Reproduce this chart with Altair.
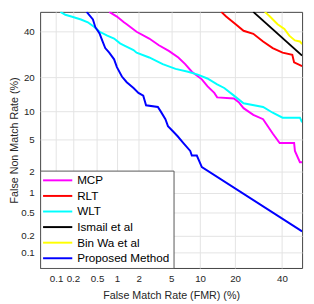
import altair as alt
import pandas as pd
from statistics import NormalDist

nd = NormalDist()

methods = ["MCP", "RLT", "WLT", "Ismail et al", "Bin Wa et al", "Proposed Method"]
colors = ["#ff00ff", "#ff0000", "#00ffff", "#000000", "#ffff00", "#0000ff"]

mcp_fmr = [0.77, 1.0, 1.26, 1.38, 1.88, 2.74, 3.6, 4.7, 6.0, 7.1, 8.3, 10.4, 11.7, 13.5, 14.3, 19.6, 21.3, 23.1, 27.0, 31.2, 35.6, 38.9, 46.0, 46.4, 48.9, 50]
mcp_fnmr = [50, 47.6, 44.7, 43.7, 39.9, 36.6, 33.4, 30.8, 27.9, 25.1, 22.1, 19.3, 17.0, 14.9, 13.6, 13.3, 12.3, 10.8, 9.3, 8.4, 5.9, 4.6, 4.6, 3.7, 2.67, 2.67]

rlt_fmr = [15.5, 17.0, 20.2, 23.1, 27.0, 31.2, 35.6, 40.3, 45.1, 46.0, 50]
rlt_fnmr = [50, 47.6, 43.7, 40.4, 38.9, 35.2, 32.1, 30.0, 29.1, 25.8, 24.3]

wlt_fmr = [0.12, 0.147, 0.187, 0.274, 0.356, 0.458, 0.55, 0.72, 0.91, 1.11, 1.26, 1.71, 1.88, 2.74, 4.0, 5.6, 7.6, 9.5, 11.7, 14.3, 16.4, 19.6, 23.1, 31.2, 35.6, 40.3, 48.9, 50]
wlt_fnmr = [50, 48.5, 47.6, 46.1, 44.7, 42.2, 39.9, 38.0, 36.6, 34.3, 33.4, 31.2, 30.0, 27.9, 25.1, 23.2, 22.1, 21.0, 19.6, 17.6, 16.4, 14.1, 12.0, 11.1, 9.75, 8.7, 8.7, 7.8]

ism_fmr = [27.0, 50]
ism_fnmr = [50, 28.7]

bin_fmr = [32.0, 34.3, 37.9, 41.2, 43.6, 46.4, 48.9, 50]
bin_fnmr = [50, 47.6, 43.7, 41.3, 38.0, 35.7, 35.2, 33.9]

prop_fmr = [0.34, 0.43, 0.47, 0.55, 0.61, 0.67, 0.77, 0.91, 1.0, 1.18, 1.38, 1.71, 1.99, 2.3, 2.5, 3.5, 3.8, 4.3, 4.6, 5.2, 5.9, 6.8, 8.0, 8.3, 9.3, 10.4, 50]
prop_fnmr = [50, 46.1, 42.2, 38.9, 35.2, 32.1, 30.0, 27.1, 23.9, 20.3, 18.3, 16.4, 14.9, 14.1, 11.5, 11.1, 10.0, 8.4, 7.1, 6.3, 5.5, 4.6, 3.7, 3.25, 3.25, 2.3, 0.24]

tick_pct = [0.1, 0.2, 0.5, 1, 2, 5, 10, 20, 40]
tick_labels = ["0.1", "0.2", "0.5", "1", "2", "5", "10", "20", "40"]
lim_pct = [0.05, 50]

series = [
    (mcp_fmr, mcp_fnmr), (rlt_fmr, rlt_fnmr), (wlt_fmr, wlt_fnmr),
    (ism_fmr, ism_fnmr), (bin_fmr, bin_fnmr), (prop_fmr, prop_fnmr),
]

def probit(p):
    q = min(max(p / 100.0, 1e-9), 0.5)
    return 0.0 if q >= 0.5 else nd.inv_cdf(q)

rows = []
for m, (fx, fy) in zip(methods, series):
    for i, (a, b) in enumerate(zip(fx, fy)):
        rows.append({"method": m, "i": i, "fmr": a, "fnmr": b,
                     "zx": probit(a), "zy": probit(b)})
df = pd.DataFrame(rows)

tick_z = [probit(p) for p in tick_pct]
dom = [probit(lim_pct[0]), probit(lim_pct[1])]

expr = ""
for z, lab in zip(tick_z, tick_labels):
    expr += f"abs(datum.value - ({z:.5f})) < 0.01 ? '{lab}' : "
expr += "''"

font = "Liberation Sans"
axis_common = dict(values=tick_z, labelExpr=expr, grid=True, gridColor="#e3e3e3",
                   gridWidth=1, domain=False, ticks=False, labelFont=font,
                   labelFontSize=10, labelColor="#262626", titleFont=font,
                   titleFontSize=11, titleColor="#262626", titleFontWeight="normal")

chart = alt.Chart(df).mark_line(strokeWidth=2, clip=True).encode(
    x=alt.X("zx:Q", scale=alt.Scale(domain=dom, nice=False, zero=False),
            axis=alt.Axis(title="False Match Rate (FMR) (%)", labelPadding=6,
                          titlePadding=6, **axis_common)),
    y=alt.Y("zy:Q", scale=alt.Scale(domain=dom, nice=False, zero=False),
            axis=alt.Axis(title="False Non Match Rate (%)", labelPadding=6,
                          titlePadding=1, **axis_common)),
    color=alt.Color("method:N", scale=alt.Scale(domain=methods, range=colors),
                    legend=alt.Legend(title=None, orient="bottom-left", offset=0,
                                      symbolType="M-3,0L3,0", symbolSize=100,
                                      symbolStrokeWidth=2, symbolOffset=8,
                                      labelOffset=14, labelFont=font,
                                      labelFontSize=12, labelColor="#000000",
                                      rowPadding=4, padding=4,
                                      strokeColor="#555555", fillColor="#ffffff")),
    order="i:Q",
).properties(
    width=269, height=263,
    padding={"left": 33, "top": 0, "right": 4, "bottom": 33},
    autosize=alt.AutoSizeParams(type="none"),
).configure_view(stroke="#404040", strokeWidth=1)

chart.save("out.html", embed_options={"renderer": "svg", "actions": False})
